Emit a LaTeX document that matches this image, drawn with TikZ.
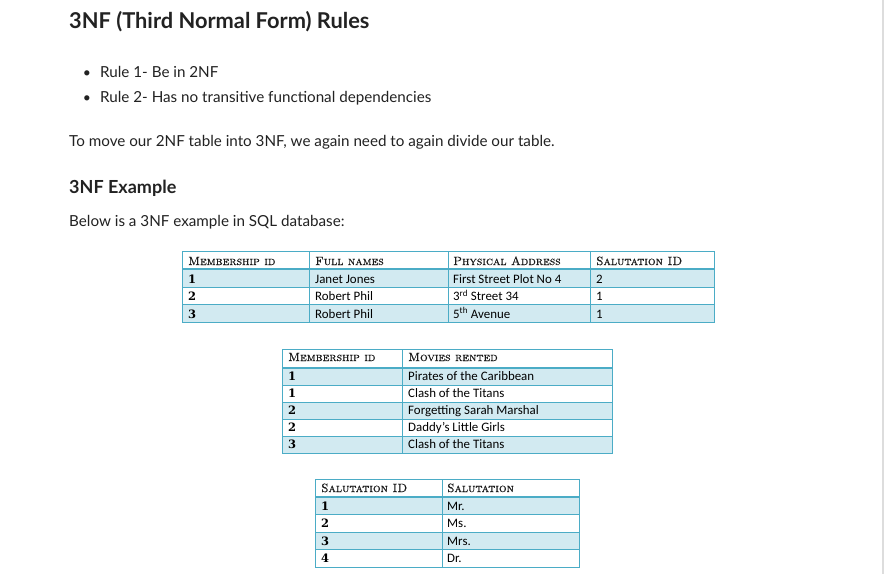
\documentclass[tikz,border=0pt]{standalone}
\usepackage{fontspec}
\newfontfamily\bodyfont{Lato}
\newfontfamily\cellfont{Carlito}
\newfontfamily\hdrfont{lmroman10-regular.otf}[SmallCapsFont=lmromancaps10-regular.otf, SmallCapsFeatures={FakeBold=0.6}]
\newfontfamily\numfont{DejaVu Serif}
\definecolor{bord}{HTML}{4BACC6}
\definecolor{rowfill}{HTML}{D2EAF1}
\definecolor{txt}{HTML}{222222}
\definecolor{hdrcol}{HTML}{1A1A1A}
\definecolor{sidebar}{HTML}{DDDDDD}
\begin{document}
\begin{tikzpicture}[x=1pt,y=-1pt,
  body/.style={anchor=base west, inner sep=0pt, text=txt, font=\bodyfont\fontsize{15.2}{18}\selectfont},
  title/.style={anchor=base west, inner sep=0pt, text=txt, font=\bodyfont\bfseries\fontsize{21.8}{26}\selectfont},
  subtitle/.style={anchor=base west, inner sep=0pt, text=txt, font=\bodyfont\bfseries\fontsize{18}{22}\selectfont},
  bul/.style={anchor=base, inner sep=0pt, text=txt, font=\bodyfont\fontsize{14}{17}\selectfont},
  hdr/.style={anchor=base west, inner sep=0pt, text=hdrcol, font=\hdrfont\scshape\fontsize{12}{14}\selectfont},
  num/.style={anchor=base west, inner sep=0pt, text=black, font=\numfont\bfseries\fontsize{11.5}{14}\selectfont},
  cell/.style={anchor=base west, inner sep=0pt, text=black, font=\cellfont\fontsize{12.9}{15}\selectfont},
  gridline/.style={draw=bord, line width=1pt},
  hdrline/.style={draw=bord, line width=2.5pt},
  rowband/.style={fill=rowfill, draw=none}
]
\useasboundingbox (0,0) rectangle (886,574);
\fill[white] (0,0) rectangle (886,574);
\fill[sidebar] (882,0) rectangle (884,574);

% ---------- text ----------
\node[title] (ttl) at (69,28) {3NF (Third Normal Form) Rules};
\node[bul] (b1) at (87,77) {•};
\node[body] (r1) at (100,77) {Rule 1- Be in 2NF};
\node[bul] (b2) at (87,102) {•};
\node[body] (r2) at (100,102) {Rule 2- Has no transitive functional dependencies};
\node[body] (p1) at (69,146) {To move our 2NF table into 3NF, we again need to again divide our table.};
\node[subtitle] (st) at (69,193) {3NF Example};
\node[body] (p2) at (69,226) {Below is a 3NF example in SQL database:};

% ---------- table 1 ----------
\path[rowband] (182,269) rectangle (714,287);
\path[rowband] (182,304) rectangle (714,322);
\draw[gridline] (182,287) -- (714,287);
\draw[gridline] (182,304) -- (714,304);
\foreach \cx in {309,448,590} \draw[gridline] (\cx,251) -- (\cx,322);
\draw[gridline] (182,251) rectangle (714,322);
\draw[hdrline] (182,269) -- (714,269);

\node[hdr] (a11) at (188,265) {Membership id};
\node[hdr] (a12) at (315,265) {Full names};
\node[hdr] (a13) at (453,265) {Physical Address};
\node[hdr] (a14) at (596,265) {Salutation ID};
\node[num] (a21) at (188,283.5) {1};
\node[cell] (a22) at (315,283.5) {Janet Jones};
\node[cell] (a23) at (453,283.5) {First Street Plot No 4};
\node[cell] (a24) at (596,283.5) {2};
\node[num] (a31) at (188,300.5) {2};
\node[cell] (a32) at (315,300.5) {Robert Phil};
\node[cell] (a33) at (453,300.5) {3\textsuperscript{rd} Street 34};
\node[cell] (a34) at (596,300.5) {1};
\node[num] (a41) at (188,318) {3};
\node[cell] (a42) at (315,318) {Robert Phil};
\node[cell] (a43) at (453,318) {5\textsuperscript{th} Avenue};
\node[cell] (a44) at (596,318) {1};

% ---------- table 2 ----------
\path[rowband] (282,368) rectangle (612,385);
\path[rowband] (282,402) rectangle (612,419);
\path[rowband] (282,436) rectangle (612,453);
\foreach \ry in {385,402,419,436} \draw[gridline] (282,\ry) -- (612,\ry);
\draw[gridline] (402,349) -- (402,453);
\draw[gridline] (282,349) rectangle (612,453);
\draw[hdrline] (282,368) -- (612,368);

\node[hdr] (m11) at (288,361) {Membership id};
\node[hdr] (m12) at (408,361) {Movies rented};
\node[num] (m21) at (288,380.5) {1};
\node[cell] (m22) at (408,380.5) {Pirates of the Caribbean};
\node[num] (m31) at (288,397.5) {1};
\node[cell] (m32) at (408,397.5) {Clash of the Titans};
\node[num] (m41) at (288,414.5) {2};
\node[cell] (m42) at (408,414.5) {Forgetting Sarah Marshal};
\node[num] (m51) at (288,431.5) {2};
\node[cell] (m52) at (408,431.5) {Daddy’s Little Girls};
\node[num] (m61) at (288,448.5) {3};
\node[cell] (m62) at (408,448.5) {Clash of the Titans};

% ---------- table 3 ----------
\path[rowband] (315,497) rectangle (579,514.5);
\path[rowband] (315,532) rectangle (579,549.5);
\foreach \ry in {514.5,532,549.5} \draw[gridline] (315,\ry) -- (579,\ry);
\draw[gridline] (442,479) -- (442,567);
\draw[gridline] (315,479) rectangle (579,567);
\draw[hdrline] (315,497) -- (579,497);

\node[hdr] (s11) at (321,492) {Salutation ID};
\node[hdr] (s12) at (447,492) {Salutation};
\node[num] (s21) at (321,510) {1};
\node[cell] (s22) at (447,510) {Mr.};
\node[num] (s31) at (321,527.5) {2};
\node[cell] (s32) at (447,527.5) {Ms.};
\node[num] (s41) at (321,545) {3};
\node[cell] (s42) at (447,545) {Mrs.};
\node[num] (s51) at (321,562) {4};
\node[cell] (s52) at (447,562) {Dr.};
\end{tikzpicture}
\end{document}
